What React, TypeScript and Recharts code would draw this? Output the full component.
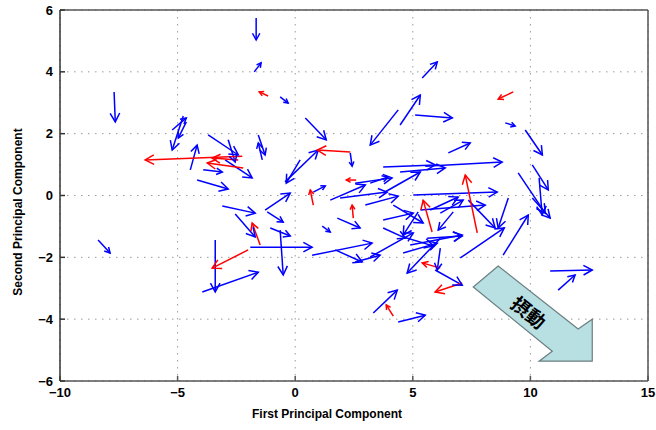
import React from "react";
import { ComposedChart, Line, XAxis, YAxis, CartesianGrid } from "recharts";

const xTicks = [-10, -5, 0, 5, 10, 15];
const yTicks = [-6, -4, -2, 0, 2, 4, 6];

// each arrow: [x tail, y tail, x head, y head]
const blueArrows: number[][] = [
  [-1.66, 5.74, -1.66, 5.03],
  [-1.74, 4.0, -1.45, 4.29],
  [-0.64, 3.19, -0.3, 2.99],
  [-7.7, 3.35, -7.65, 2.38],
  [0.43, 2.51, 1.32, 1.8],
  [4.38, 2.77, 3.19, 1.63],
  [4.46, 2.28, 5.32, 3.25],
  [5.4, 3.8, 6.04, 4.32],
  [5.1, 2.6, 6.68, 2.51],
  [9.78, 2.12, 10.51, 1.31],
  [8.93, 2.35, 9.35, 2.25],
  [-4.76, 2.57, -5.23, 1.47],
  [-4.63, 2.38, -4.97, 1.86],
  [-5.23, 2.12, -4.63, 2.51],
  [-4.46, 0.83, -4.17, 1.63],
  [-3.7, 1.96, -2.42, 1.31],
  [-2.85, 1.8, -2.55, 1.08],
  [-2.98, 1.15, -1.83, 0.57],
  [-4.17, 0.5, -2.85, 0.21],
  [-3.91, 0.83, -3.1, 0.76],
  [-1.57, 1.96, -1.28, 1.31],
  [-1.4, 1.15, -1.57, 1.7],
  [-3.1, -0.34, -1.7, -0.57],
  [-2.55, -0.6, -1.7, -1.34],
  [-8.38, -1.44, -7.87, -1.86],
  [-3.4, -1.44, -3.4, -3.12],
  [-3.95, -3.12, -1.57, -2.48],
  [-1.91, -1.67, 0.72, -1.67],
  [-0.43, 0.44, 0.98, 1.47],
  [0.21, 1.15, -0.38, 0.4],
  [2.34, 1.38, 2.42, 0.95],
  [0.77, 0.11, 1.28, 0.31],
  [-1.28, -0.47, -0.21, 0.08],
  [-1.19, -0.53, -0.51, -0.86],
  [-1.06, -1.05, -0.21, -1.31],
  [-0.64, -1.12, -0.51, -2.57],
  [1.15, -0.99, 1.49, -1.18],
  [1.79, -0.73, 2.76, -1.05],
  [0.72, -1.93, 3.27, -1.54],
  [1.7, -1.76, 2.85, -2.15],
  [6.51, 1.38, 7.44, 1.7],
  [3.74, 0.92, 5.95, 0.99],
  [5.53, 0.95, 8.8, 1.08],
  [4.46, 0.76, 6.38, 0.89],
  [2.55, 0.4, 4.12, 0.57],
  [3.74, 0.08, 5.32, 0.76],
  [5.02, 0.02, 8.59, 0.11],
  [7.36, -0.15, 8.5, -1.05],
  [9.06, -0.08, 8.63, -1.05],
  [7.02, -2.02, 8.89, -1.05],
  [8.84, -1.93, 9.91, -0.63],
  [9.48, 0.73, 10.63, -0.57],
  [10.08, 0.99, 10.76, 0.18],
  [10.37, 0.57, 10.5, -0.63],
  [10.08, -0.08, 10.84, -0.73],
  [5.32, -0.47, 8.08, -0.31],
  [4.89, -1.6, 7.1, -1.28],
  [3.74, -0.79, 5.02, -0.57],
  [4.17, -0.31, 5.44, -0.89],
  [4.59, -1.34, 5.87, -1.63],
  [5.61, -1.38, 7.1, -1.31],
  [3.19, -1.99, 5.02, -1.21],
  [4.59, -1.86, 6.04, -1.54],
  [6.17, -1.7, 6.04, -2.41],
  [6.17, -0.57, 7.14, -0.15],
  [6.72, -0.53, 6.08, -1.12],
  [3.19, 0.4, 3.95, 0.6],
  [1.91, -0.08, 3.91, 0.11],
  [1.49, -0.15, 2.98, 0.34],
  [10.84, -2.44, 12.63, -2.41],
  [11.18, -3.06, 11.9, -2.57],
  [5.95, -2.41, 7.1, -2.9],
  [6.17, -1.38, 4.76, -2.51],
  [3.32, -3.8, 4.34, -3.06],
  [4.38, -4.09, 5.53, -3.87],
  [2.55, -2.15, 3.61, -1.93],
  [2.98, -0.31, 4.38, -0.02],
  [3.74, -1.05, 4.68, -1.38],
  [5.23, -0.53, 4.59, -1.28],
  [5.74, -0.47, 6.93, -0.05],
];

const redArrows: number[][] = [
  [-1.15, 3.22, -1.53, 3.35],
  [9.27, 3.35, 8.63, 3.12],
  [-2.25, 1.27, -6.38, 1.15],
  [-2.21, 0.89, -3.74, 1.05],
  [-2.42, 1.15, -3.53, 1.21],
  [-2.0, -1.76, -3.53, -2.35],
  [-1.49, -1.6, -1.83, -0.89],
  [2.34, 1.41, 0.94, 1.47],
  [0.77, -0.31, 0.64, 0.18],
  [2.59, 0.5, 2.17, 0.5],
  [2.47, -0.73, 2.42, -0.31],
  [7.74, -1.21, 7.23, 0.66],
  [5.82, -1.18, 5.44, -0.15],
  [7.1, -2.83, 5.95, -3.12],
  [6.17, -2.35, 5.4, -2.18],
  [4.17, -3.9, 3.87, -3.54],
];

// big "perturbation" arrow outline
const pushX = [8.63, 7.57, 10.93, 10.37, 12.63, 12.63, 12.03];
const pushY = [-2.28, -2.96, -5.04, -5.36, -5.36, -4.0, -4.32];
const pushLabel = "摂動";

const font = "'Liberation Sans', Arial, sans-serif";
const fmt = (v: number) => String(v).replace("-", "\u2212");

function headDot(color: string) {
  let tail: { x: number; y: number } | null = null;
  return (p: any) => {
    if (p.index === 0) {
      tail = { x: p.cx, y: p.cy };
      return <g key={`t${p.index}`} />;
    }
    const t = p.points && p.points[0] ? { x: p.points[0].x, y: p.points[0].y } : tail;
    if (!t) return <g key={`h${p.index}`} />;
    const dx = p.cx - t.x;
    const dy = p.cy - t.y;
    const len = Math.hypot(dx, dy) || 1;
    const ux = dx / len;
    const uy = dy / len;
    const h = Math.min(10, Math.max(5, len * 0.35));
    const a = 0.5;
    const c = Math.cos(a);
    const s = Math.sin(a);
    const lx = p.cx - h * (ux * c - uy * s);
    const ly = p.cy - h * (uy * c + ux * s);
    const rx = p.cx - h * (ux * c + uy * s);
    const ry = p.cy - h * (uy * c - ux * s);
    return (
      <polyline
        key={`h${p.index}`}
        points={`${lx},${ly} ${p.cx},${p.cy} ${rx},${ry}`}
        fill="none"
        stroke={color}
        strokeWidth={1.5}
      />
    );
  };
}

function pushDot() {
  const pts: { x: number; y: number }[] = [];
  return (p: any) => {
    if (p.index === 0) pts.length = 0;
    pts[p.index] = { x: p.cx, y: p.cy };
    if (p.index !== pushX.length - 1) return <g key={`p${p.index}`} />;
    const all = p.points && p.points.length === pushX.length ? p.points : pts;
    const mx = (all[0].x + all[1].x) / 2;
    const my = (all[0].y + all[1].y) / 2;
    const tx = (all[2].x + all[6].x) / 2;
    const ty = (all[2].y + all[6].y) / 2;
    const cx = mx + (tx - mx) * 0.55;
    const cy = my + (ty - my) * 0.55;
    const ang = (Math.atan2(ty - my, tx - mx) * 180) / Math.PI;
    return (
      <g key="push">
        <polygon
          points={all.map((q: any) => `${q.x},${q.y}`).join(" ")}
          fill="#b8dfe2"
          stroke="#6b7f80"
          strokeWidth={1.2}
        />
        <text
          x={cx}
          y={cy}
          transform={`rotate(${ang} ${cx} ${cy})`}
          textAnchor="middle"
          dominantBaseline="central"
          fontSize={19}
          fontWeight={700}
          fontFamily="'Noto Sans CJK JP', sans-serif"
          fill="#000"
        >
          {pushLabel}
        </text>
      </g>
    );
  };
}

const XLabel = () => (
  <text x={327} y={418} textAnchor="middle" fontSize={12} fontWeight={700} fontFamily={font} fill="#000">
    First Principal Component
  </text>
);

const YLabel = () => (
  <text
    x={22}
    y={212}
    transform="rotate(-90 22 212)"
    textAnchor="middle"
    fontSize={12}
    fontWeight={700}
    fontFamily={font}
    fill="#000"
  >
    Second Principal Component
  </text>
);

const tickStyle = { fill: "#000", fontSize: 13, fontWeight: 700, fontFamily: font };

export default function App() {
  return (
    <div style={{ position: "absolute", left: 0, top: 0, width: 656, height: 430, background: "#fff" }}>
      <ComposedChart width={656} height={430} margin={{ top: 9, right: 7, bottom: 0, left: 0 }}>
        <CartesianGrid stroke="#9a9a9a" strokeDasharray="1.5 5.5" />
        <XAxis
          xAxisId={0}
          dataKey="x"
          type="number"
          domain={[-10, 15]}
          ticks={xTicks}
          interval={0}
          allowDataOverflow
          height={49}
          tickSize={-5}
          tickMargin={12}
          stroke="#555"
          strokeWidth={1.5}
          tick={tickStyle}
          tickFormatter={fmt}
          label={<XLabel />}
        />
        <XAxis
          xAxisId="top"
          orientation="top"
          dataKey="x"
          type="number"
          domain={[-10, 15]}
          ticks={xTicks}
          interval={0}
          allowDataOverflow
          height={1}
          tickSize={-5}
          tick={false}
          stroke="#555"
          strokeWidth={1.5}
        />
        <YAxis
          yAxisId={0}
          type="number"
          domain={[-6, 6]}
          ticks={yTicks}
          interval={0}
          allowDataOverflow
          width={60}
          tickSize={-5}
          tickMargin={12}
          stroke="#333"
          strokeWidth={1.5}
          tick={tickStyle}
          tickFormatter={fmt}
          label={<YLabel />}
        />
        <YAxis
          yAxisId="right"
          orientation="right"
          type="number"
          domain={[-6, 6]}
          ticks={yTicks}
          interval={0}
          allowDataOverflow
          width={1}
          tickSize={-5}
          tick={false}
          stroke="#555"
          strokeWidth={1.5}
        />
        {blueArrows.map((a, i) => (
          <Line
            key={`b${i}`}
            data={[
              { x: a[0], y: a[1] },
              { x: a[2], y: a[3] },
            ]}
            dataKey="y"
            type="linear"
            stroke="#0000ff"
            strokeWidth={1.5}
            dot={headDot("#0000ff")}
            activeDot={false}
            isAnimationActive={false}
            legendType="none"
          />
        ))}
        {redArrows.map((a, i) => (
          <Line
            key={`r${i}`}
            data={[
              { x: a[0], y: a[1] },
              { x: a[2], y: a[3] },
            ]}
            dataKey="y"
            type="linear"
            stroke="#ff0000"
            strokeWidth={1.5}
            dot={headDot("#ff0000")}
            activeDot={false}
            isAnimationActive={false}
            legendType="none"
          />
        ))}
        <Line
          data={pushX.map((x, i) => ({ x, y: pushY[i] }))}
          dataKey="y"
          type="linear"
          stroke="none"
          dot={pushDot()}
          activeDot={false}
          isAnimationActive={false}
          legendType="none"
        />
      </ComposedChart>
    </div>
  );
}
